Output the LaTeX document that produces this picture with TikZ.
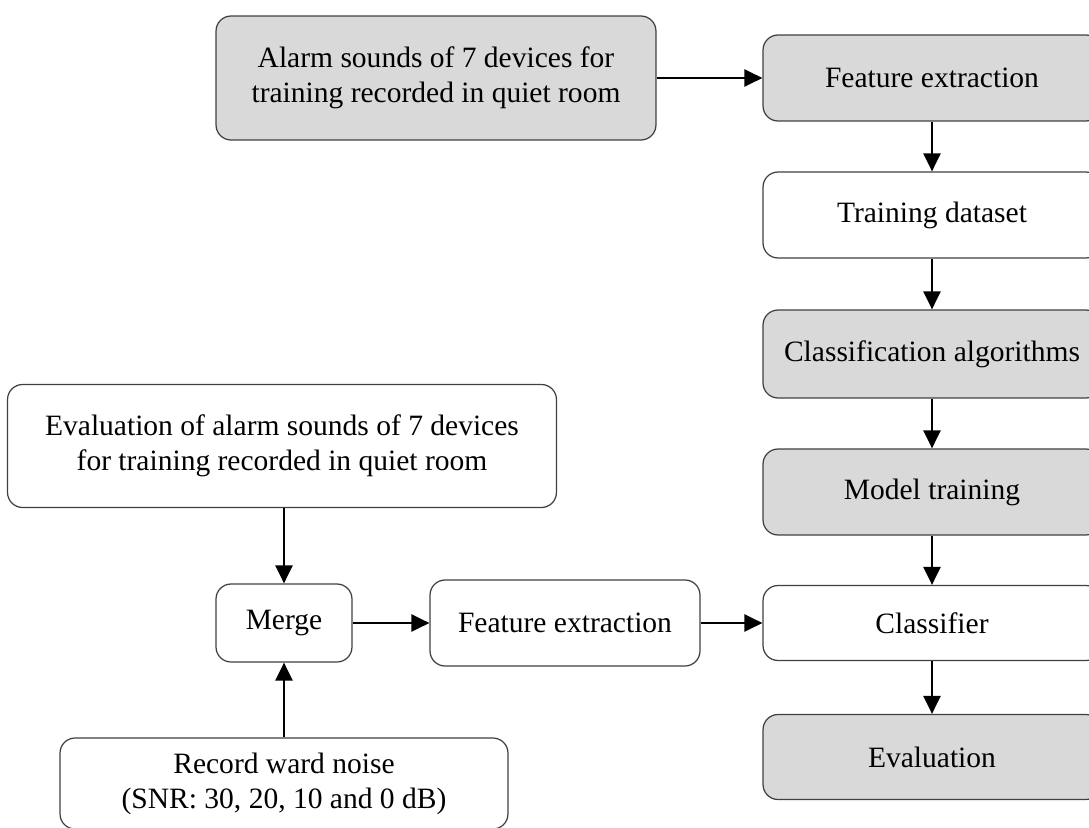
\documentclass[tikz,border=0pt]{standalone}
\usepackage{fontspec}
\setmainfont{Liberation Serif}
\usetikzlibrary{arrows.meta}
\definecolor{boxgray}{HTML}{D9D9D9}
\definecolor{edgegray}{HTML}{404040}
\tikzset{
  box/.style={draw=edgegray,line width=0.7pt,rounded corners=0.3cm,align=center,
    font=\fontsize{16.8}{20}\selectfont,inner sep=0pt},
  graybox/.style={box,fill=boxgray},
  arr/.style={line width=1.4pt,-{Triangle[length=0.36cm,width=0.34cm]}}
}
\begin{document}
\begin{tikzpicture}[x=0.02cm,y=-0.02cm]
\useasboundingbox (0,0) rectangle (1089,828);
% training branch
\node[graybox,minimum width=8.8cm,minimum height=2.48cm] (alarm) at (436,78)
  {Alarm sounds of 7 devices for\\training recorded in quiet room};
\node[graybox,minimum width=6.76cm,minimum height=1.72cm] (fetrain) at (932,78) {Feature extraction};
\node[box,minimum width=6.76cm,minimum height=1.72cm] (dataset) at (932,215) {Training dataset};
\node[graybox,minimum width=6.76cm,minimum height=1.76cm] (algo) at (932,354) {Classification algorithms};
\node[graybox,minimum width=6.76cm,minimum height=1.72cm] (model) at (932,492) {Model training};
\node[box,minimum width=6.76cm,minimum height=1.5cm] (clf) at (932,623) {Classifier};
\node[graybox,minimum width=6.76cm,minimum height=1.7cm] (evaluation) at (932,757) {Evaluation};
% test branch
\node[box,minimum width=10.98cm,minimum height=2.46cm] (evalin) at (282,446)
  {Evaluation of alarm sounds of 7 devices\\for training recorded in quiet room};
\node[box,minimum width=2.72cm,minimum height=1.56cm] (merge) at (284,623) {Merge};
\node[box,minimum width=5.4cm,minimum height=1.72cm] (fetest) at (565,623) {Feature extraction};
\node[box,minimum width=8.96cm,minimum height=1.82cm] (noise) at (284,783.5)
  {Record ward noise\\(SNR: 30, 20, 10 and 0 dB)};
% arrows
\draw[arr] (alarm) -- (fetrain);
\draw[arr] (fetrain) -- (dataset);
\draw[arr] (dataset) -- (algo);
\draw[arr] (algo) -- (model);
\draw[arr] (model) -- (clf);
\draw[arr] (clf) -- (evaluation);
\draw[arr] (evalin.south -| merge.north) -- (merge);
\draw[arr] (noise.north -| merge.south) -- (merge);
\draw[arr] (merge) -- (fetest);
\draw[arr] (fetest) -- (clf);
\end{tikzpicture}
\end{document}
